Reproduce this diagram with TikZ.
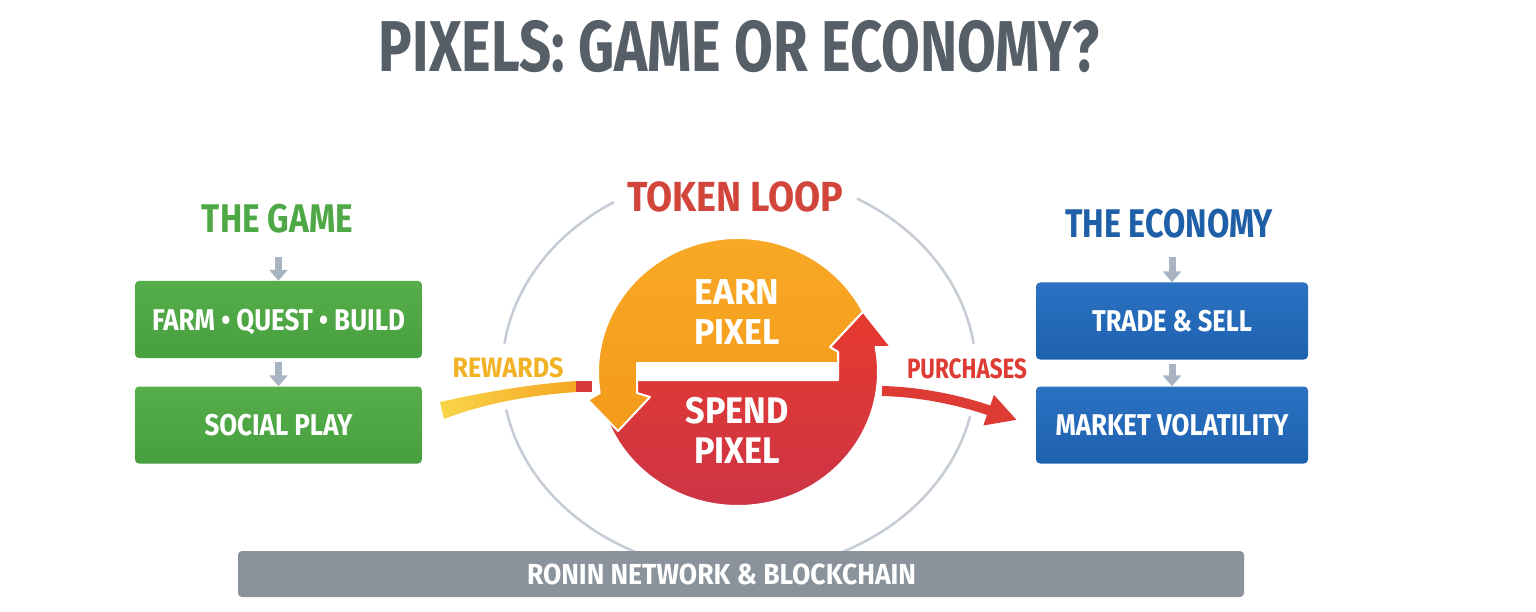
\documentclass[tikz,border=0pt]{standalone}
\usepackage{fontspec}
\usepackage{graphicx}
\usetikzlibrary{arrows.meta,calc}
\newfontfamily\cf[FakeStretch=0.78]{Fira Sans}
\newcommand\myfs[2]{\cf\bfseries\fontsize{#1}{#2}\selectfont}
\newcommand\fw[2]{\resizebox{#1pt}{\height}{#2}}
\definecolor{titlec}{HTML}{565E68}
\definecolor{tokc}{HTML}{D1453B}
\definecolor{gamec}{HTML}{4EA845}
\definecolor{econc}{HTML}{1F5FA8}
\definecolor{gtop}{HTML}{55AE4A}
\definecolor{gbot}{HTML}{479F3E}
\definecolor{btop}{HTML}{2B72C2}
\definecolor{bbot}{HTML}{1E61AF}
\definecolor{arrc}{HTML}{A9B4C3}
\definecolor{ringc}{HTML}{C5CCD5}
\definecolor{orA}{HTML}{F8AA25}
\definecolor{orB}{HTML}{F49A1B}
\definecolor{rdA}{HTML}{E63A2E}
\definecolor{rdB}{HTML}{CC3446}
\definecolor{yel}{HTML}{F9D548}
\definecolor{orn}{HTML}{F5A623}
\definecolor{rdsq}{HTML}{D63A3A}
\definecolor{purc}{HTML}{DE3B34}
\definecolor{barc}{HTML}{8A929C}
\definecolor{rewc}{HTML}{F1B325}
\begin{document}
\begin{tikzpicture}[x=1pt,y=1pt,
  box/.style={rounded corners=4pt, minimum height=77pt, inner sep=0pt,
    text=white, font=\myfs{30}{30}, text height=21pt, text depth=0pt},
  gbox/.style={box, top color=gtop, bottom color=gbot, minimum width=287pt},
  bbox/.style={box, top color=btop, bottom color=bbot, minimum width=272pt},
  garr/.style={draw=arrc, line width=7pt, -{Triangle[width=18pt,length=11pt]}},
  ring/.style={draw=ringc, line width=2.5pt, line cap=round},
  lbl/.style={inner sep=0pt, anchor=base}
]
\useasboundingbox (0,0) rectangle (1536,-612);
\fill[white] (0,0) rectangle (1536,-612);

% title
\node[lbl, text=titlec, font=\myfs{72}{72}] (title) at (739,-72) {PIXELS: GAME OR ECONOMY?};

% token loop ring
\coordinate (ec) at (739,-372);
\draw[ring] ($(ec)+(8.3:237 and 200)$) arc[start angle=8.3, end angle=60, x radius=237, y radius=200];
\draw[ring] ($(ec)+(122:237 and 200)$) arc[start angle=122, end angle=171.7, x radius=237, y radius=200];
\draw[ring] ($(ec)+(191:237 and 200)$) arc[start angle=191, end angle=347, x radius=237, y radius=200];
\node[lbl, text=tokc, font=\myfs{42}{42}] (token) at (735,-212) {\fw{216}{TOKEN LOOP}};

% central circle
\coordinate (cc) at (738,-372);
\shadedraw[top color=rdA, bottom color=rdB, draw=white, line width=2pt, line join=round]
  (637,-380) -- ($(cc)+(183.4:140 and 134)$)
  arc[start angle=183.4, end angle=370.75, x radius=140, y radius=134]
  -- (891,-347) -- ($(cc)+(26.8:140 and 134)$) -- (830,-347) -- (838,-352) -- (838,-380) -- cycle;
\shadedraw[top color=orA, bottom color=orB, draw=white, line width=2pt, line join=round]
  ($(cc)+(26.8:140 and 134)$)
  arc[start angle=26.8, end angle=189, x radius=140, y radius=134]
  -- (588,-400) -- (618,-431) -- (650,-397) -- (637,-393) -- (637,-363)
  -- (838,-363) -- (838,-352) -- (830,-347) -- cycle;
\node[inner sep=0pt, align=center, text=white, font=\myfs{36}{40}] (earn) at (737,-312.5) {\fw{85}{EARN}\\\fw{85}{PIXEL}};
\node[inner sep=0pt, align=center, text=white, font=\myfs{37}{40}] (spend) at (737,-430) {\fw{103}{SPEND}\\\fw{86}{PIXEL}};

% left column
\node[lbl, text=gamec, font=\myfs{40}{40}] (game) at (277.5,-233) {\fw{151}{THE GAME}};
\node[gbox] (farm) at (278.5,-319.5) {\fw{253}{FARM • QUEST • BUILD}};
\node[gbox] (social) at (278.5,-425) {\fw{148}{SOCIAL PLAY}};
\coordinate (g0) at (278.5,-257);
\draw[garr] (g0) -- (farm.north);
\draw[garr, shorten <=4pt] (farm.south) -- (social.north);

% right column
\node[lbl, text=econc, font=\myfs{40}{40}] (econ) at (1169,-237) {\fw{208}{THE ECONOMY}};
\node[bbox] (trade) at (1172,-321) {\fw{160}{TRADE \& SELL}};
\node[bbox] (market) at (1172,-425) {\fw{233}{MARKET VOLATILITY}};
\coordinate (e0) at (1172,-257);
\draw[garr] (e0) -- (trade.north);
\draw[garr, shorten <=4pt] (trade.south) -- (market.north);

% rewards
\coordinate (rw1) at (442,-410);
\coordinate (rw2) at (577,-386);
\shade[left color=yel, right color=orn]
  ($(rw1)+(-2,8)$) .. controls (480,-393) and (530,-384) .. ($(rw2)+(0,5)$)
  -- ($(rw2)+(0,-6)$) .. controls (530,-395) and (482,-404) .. ($(rw1)+(2,-9)$) -- cycle;
\fill[rdsq] ($(rw2)+(-1,5)$) rectangle ($(rw2)+(15,-6)$);
\node[lbl, text=rewc, font=\myfs{28}{28}] (rew) at (508,-377) {\fw{111}{REWARDS}};

% purchases
\coordinate (pu1) at (882,-391);
\coordinate (pu2) at (1017,-420);
\draw[draw=purc, line width=10pt, -{Triangle[width=30pt,length=30pt]}]
  (pu1) .. controls (925,-392) and (965,-402) .. (pu2);
\node[lbl, text=purc, font=\myfs{28}{28}] (pur) at (967,-378) {\fw{120}{PURCHASES}};

% bottom bar
\node[fill=barc, rounded corners=4pt, minimum width=1006pt, minimum height=46pt, inner sep=0pt] (bar) at (741,-574) {};
\node[lbl, text=white, font=\myfs{29}{29}] (ronin) at (721.5,-584) {\fw{389}{RONIN NETWORK \& BLOCKCHAIN}};
\end{tikzpicture}
\end{document}
